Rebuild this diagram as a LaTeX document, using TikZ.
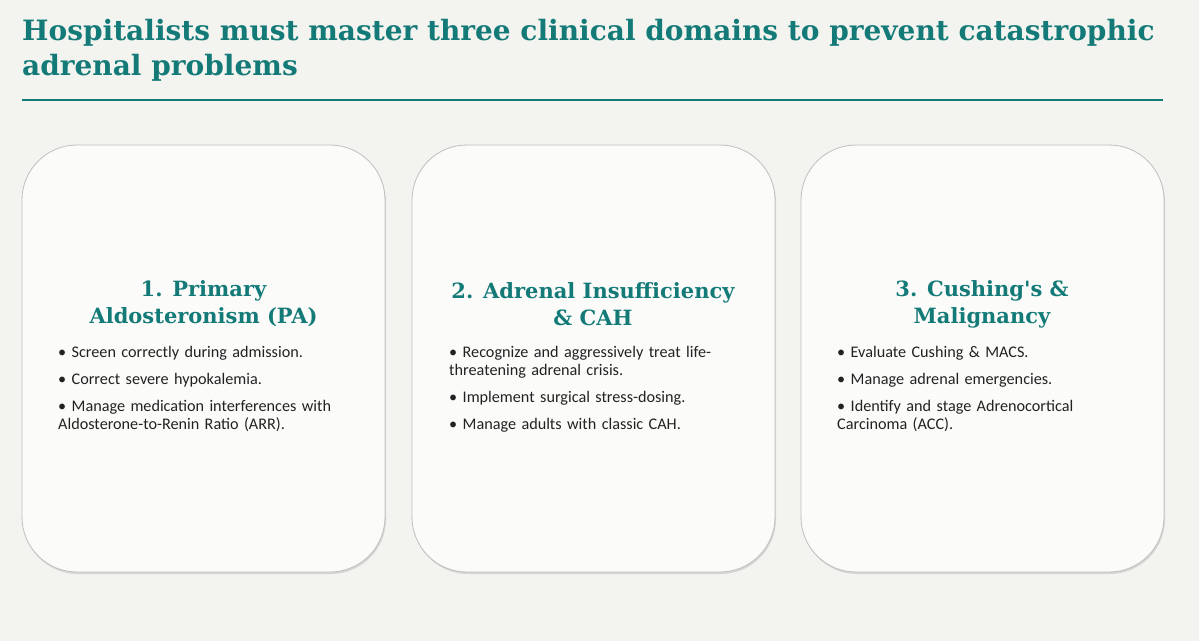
\documentclass[tikz,border=0pt]{standalone}
\usepackage{fontspec}
\setmainfont{DejaVu Serif}
\newfontfamily\bodyf{Carlito}
\usetikzlibrary{shadows}
\definecolor{teal1}{HTML}{137A78}
\definecolor{bg}{HTML}{F3F4F0}
\definecolor{txt}{HTML}{222222}
\definecolor{cardf}{HTML}{FBFBFA}
\tikzset{
 card/.style={draw=black!25,line width=0.8pt,fill=cardf,rounded corners=55pt,
   drop shadow={shadow xshift=1pt,shadow yshift=-2pt,opacity=0.25}},
 head/.style={text=teal1,font=\bfseries\fontsize{21}{27}\selectfont,align=center,anchor=center},
 body/.style={text=txt,font=\bodyf\fontsize{16.2}{18.5}\selectfont,align=left,anchor=north west,text width=320pt,inner sep=0pt}
}
\begin{document}
\begin{tikzpicture}[x=1pt,y=-1pt]
\useasboundingbox[fill=bg] (0,0) rectangle (1199,641);
\node[anchor=north west,inner sep=0pt,text=teal1,align=left,font=\bfseries\fontsize{28}{35}\selectfont] (title) at (22,19)
 {Hospitalists must master three clinical domains to prevent catastrophic\\adrenal problems};
\draw[teal1,line width=2.5pt] (22,100) -- (1163,100);
\foreach \x/\n in {22/a,412/b,801/c}{
 \path[card] (\x,145) rectangle +(363,427);
}
\node[head] (ha) at (203.5,304) {1. Primary\\Aldosteronism (PA)};
\node[head] (hb) at (593,304) {2. Adrenal Insufficiency\\\& CAH};
\node[head] (hc) at (982,304) {3. Cushing\textquotesingle s \&\\Malignancy};
\node[body] (ba) at (58,346) {\textbullet\ Screen correctly during admission.\\[8.5pt]
\textbullet\ Correct severe hypokalemia.\\[8.5pt]
\textbullet\ Manage medication interferences with\\Aldosterone-to-Renin Ratio (ARR).};
\node[body] (bb) at (449,346) {\textbullet\ Recognize and aggressively treat life-\\threatening adrenal crisis.\\[8.5pt]
\textbullet\ Implement surgical stress-dosing.\\[8.5pt]
\textbullet\ Manage adults with classic CAH.};
\node[body] (bc) at (837,346) {\textbullet\ Evaluate Cushing \& MACS.\\[8.5pt]
\textbullet\ Manage adrenal emergencies.\\[8.5pt]
\textbullet\ Identify and stage Adrenocortical\\Carcinoma (ACC).};
\end{tikzpicture}
\end{document}
